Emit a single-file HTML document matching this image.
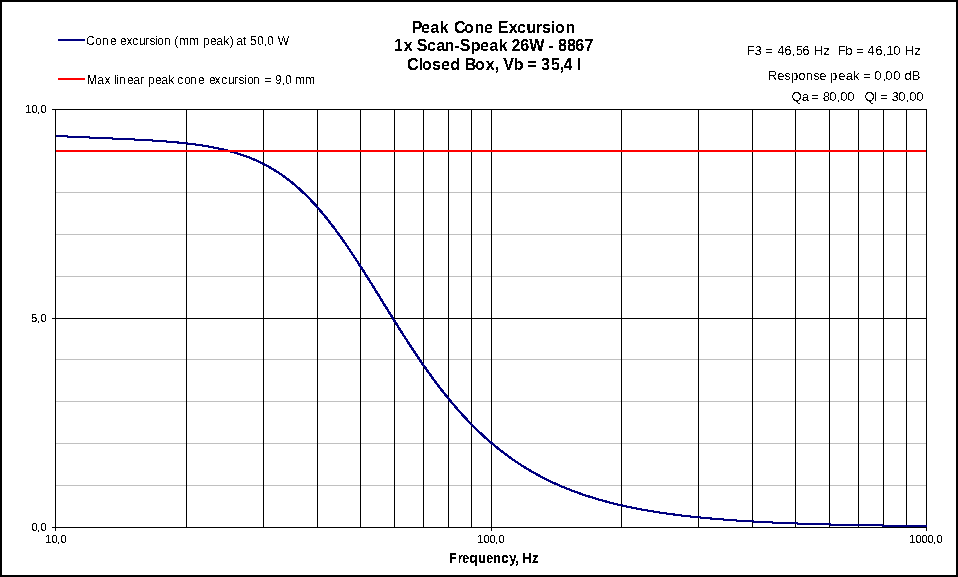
<!DOCTYPE html>
<html><head><meta charset="utf-8"><style>html,body{margin:0;padding:0;background:#fff;width:958px;height:577px;overflow:hidden}</style></head>
<body>
<svg width="958" height="577" viewBox="0 0 958 577" style="display:block">
<rect x="0" y="0" width="958" height="577" fill="#fff"/>
<g shape-rendering="crispEdges" stroke-width="1">
<line x1="56" y1="192.5" x2="926" y2="192.5" stroke="#C0C0C0"/>
<line x1="56" y1="234.5" x2="926" y2="234.5" stroke="#C0C0C0"/>
<line x1="56" y1="276.5" x2="926" y2="276.5" stroke="#C0C0C0"/>
<line x1="56" y1="359.5" x2="926" y2="359.5" stroke="#C0C0C0"/>
<line x1="56" y1="401.5" x2="926" y2="401.5" stroke="#C0C0C0"/>
<line x1="56" y1="443.5" x2="926" y2="443.5" stroke="#C0C0C0"/>
<line x1="56" y1="485.5" x2="926" y2="485.5" stroke="#C0C0C0"/>
<line x1="52" y1="109.5" x2="927" y2="109.5" stroke="#000"/>
<line x1="52" y1="318.5" x2="927" y2="318.5" stroke="#000"/>
<line x1="52" y1="527.5" x2="927" y2="527.5" stroke="#000"/>
<line x1="186.5" y1="109" x2="186.5" y2="528" stroke="#000"/>
<line x1="263.5" y1="109" x2="263.5" y2="528" stroke="#000"/>
<line x1="317.5" y1="109" x2="317.5" y2="528" stroke="#000"/>
<line x1="360.5" y1="109" x2="360.5" y2="528" stroke="#000"/>
<line x1="394.5" y1="109" x2="394.5" y2="528" stroke="#000"/>
<line x1="423.5" y1="109" x2="423.5" y2="528" stroke="#000"/>
<line x1="448.5" y1="109" x2="448.5" y2="528" stroke="#000"/>
<line x1="471.5" y1="109" x2="471.5" y2="528" stroke="#000"/>
<line x1="621.5" y1="109" x2="621.5" y2="528" stroke="#000"/>
<line x1="698.5" y1="109" x2="698.5" y2="528" stroke="#000"/>
<line x1="752.5" y1="109" x2="752.5" y2="528" stroke="#000"/>
<line x1="795.5" y1="109" x2="795.5" y2="528" stroke="#000"/>
<line x1="829.5" y1="109" x2="829.5" y2="528" stroke="#000"/>
<line x1="858.5" y1="109" x2="858.5" y2="528" stroke="#000"/>
<line x1="883.5" y1="109" x2="883.5" y2="528" stroke="#000"/>
<line x1="906.5" y1="109" x2="906.5" y2="528" stroke="#000"/>
<line x1="55.5" y1="109" x2="55.5" y2="531" stroke="#000"/>
<line x1="491.5" y1="109" x2="491.5" y2="531" stroke="#000"/>
<line x1="926.5" y1="109" x2="926.5" y2="531" stroke="#000"/>
</g>
<g fill="none" stroke="#000080" stroke-width="1" shape-rendering="crispEdges">
<path id="c" d="M56.0,135.44 L57.0,135.49 L58.0,135.55 L59.0,135.60 L60.0,135.65 L61.0,135.70 L62.0,135.75 L63.0,135.81 L64.0,135.86 L65.0,135.91 L66.0,135.96 L67.0,136.01 L68.0,136.06 L69.0,136.10 L70.0,136.15 L71.0,136.20 L72.0,136.25 L73.0,136.30 L74.0,136.34 L75.0,136.39 L76.0,136.44 L77.0,136.48 L78.0,136.53 L79.0,136.58 L80.0,136.62 L81.0,136.67 L82.0,136.71 L83.0,136.76 L84.0,136.80 L85.0,136.85 L86.0,136.89 L87.0,136.93 L88.0,136.98 L89.0,137.02 L90.0,137.07 L91.0,137.11 L92.0,137.15 L93.0,137.20 L94.0,137.24 L95.0,137.28 L96.0,137.33 L97.0,137.37 L98.0,137.41 L99.0,137.45 L100.0,137.50 L101.0,137.54 L102.0,137.58 L103.0,137.63 L104.0,137.67 L105.0,137.71 L106.0,137.75 L107.0,137.80 L108.0,137.84 L109.0,137.88 L110.0,137.93 L111.0,137.97 L112.0,138.01 L113.0,138.06 L114.0,138.10 L115.0,138.14 L116.0,138.19 L117.0,138.23 L118.0,138.28 L119.0,138.32 L120.0,138.36 L121.0,138.41 L122.0,138.46 L123.0,138.50 L124.0,138.55 L125.0,138.59 L126.0,138.64 L127.0,138.69 L128.0,138.73 L129.0,138.78 L130.0,138.83 L131.0,138.88 L132.0,138.93 L133.0,138.98 L134.0,139.03 L135.0,139.08 L136.0,139.13 L137.0,139.18 L138.0,139.23 L139.0,139.28 L140.0,139.34 L141.0,139.39 L142.0,139.44 L143.0,139.50 L144.0,139.55 L145.0,139.61 L146.0,139.67 L147.0,139.73 L148.0,139.78 L149.0,139.84 L150.0,139.90 L151.0,139.97 L152.0,140.03 L153.0,140.09 L154.0,140.15 L155.0,140.22 L156.0,140.29 L157.0,140.35 L158.0,140.42 L159.0,140.49 L160.0,140.56 L161.0,140.63 L162.0,140.70 L163.0,140.78 L164.0,140.85 L165.0,140.93 L166.0,141.01 L167.0,141.09 L168.0,141.17 L169.0,141.25 L170.0,141.33 L171.0,141.42 L172.0,141.50 L173.0,141.59 L174.0,141.68 L175.0,141.77 L176.0,141.86 L177.0,141.96 L178.0,142.05 L179.0,142.15 L180.0,142.25 L181.0,142.35 L182.0,142.46 L183.0,142.56 L184.0,142.67 L185.0,142.78 L186.0,142.89 L187.0,143.01 L188.0,143.12 L189.0,143.24 L190.0,143.36 L191.0,143.49 L192.0,143.61 L193.0,143.74 L194.0,143.87 L195.0,144.01 L196.0,144.14 L197.0,144.28 L198.0,144.43 L199.0,144.57 L200.0,144.72 L201.0,144.87 L202.0,145.02 L203.0,145.18 L204.0,145.34 L205.0,145.50 L206.0,145.67 L207.0,145.84 L208.0,146.02 L209.0,146.19 L210.0,146.37 L211.0,146.56 L212.0,146.75 L213.0,146.94 L214.0,147.13 L215.0,147.33 L216.0,147.54 L217.0,147.75 L218.0,147.96 L219.0,148.18 L220.0,148.40 L221.0,148.62 L222.0,148.85 L223.0,149.09 L224.0,149.33 L225.0,149.57 L226.0,149.82 L227.0,150.08 L228.0,150.34 L229.0,150.60 L230.0,150.87 L231.0,151.15 L232.0,151.43 L233.0,151.71 L234.0,152.01 L235.0,152.30 L236.0,152.61 L237.0,152.92 L238.0,153.24 L239.0,153.56 L240.0,153.89 L241.0,154.22 L242.0,154.56 L243.0,154.91 L244.0,155.27 L245.0,155.63 L246.0,156.00 L247.0,156.37 L248.0,156.76 L249.0,157.15 L250.0,157.55 L251.0,157.95 L252.0,158.36 L253.0,158.78 L254.0,159.21 L255.0,159.65 L256.0,160.10 L257.0,160.55 L258.0,161.01 L259.0,161.48 L260.0,161.96 L261.0,162.45 L262.0,162.94 L263.0,163.45 L264.0,163.96 L265.0,164.49 L266.0,165.02 L267.0,165.56 L268.0,166.11 L269.0,166.68 L270.0,167.25 L271.0,167.83 L272.0,168.42 L273.0,169.02 L274.0,169.63 L275.0,170.26 L276.0,170.89 L277.0,171.53 L278.0,172.19 L279.0,172.85 L280.0,173.53 L281.0,174.21 L282.0,174.91 L283.0,175.62 L284.0,176.34 L285.0,177.07 L286.0,177.81 L287.0,178.57 L288.0,179.33 L289.0,180.11 L290.0,180.90 L291.0,181.70 L292.0,182.52 L293.0,183.34 L294.0,184.18 L295.0,185.03 L296.0,185.90 L297.0,186.77 L298.0,187.66 L299.0,188.56 L300.0,189.47 L301.0,190.40 L302.0,191.33 L303.0,192.28 L304.0,193.25 L305.0,194.22 L306.0,195.21 L307.0,196.21 L308.0,197.22 L309.0,198.25 L310.0,199.29 L311.0,200.34 L312.0,201.41 L313.0,202.48 L314.0,203.57 L315.0,204.68 L316.0,205.79 L317.0,206.92 L318.0,208.06 L319.0,209.21 L320.0,210.38 L321.0,211.56 L322.0,212.75 L323.0,213.95 L324.0,215.17 L325.0,216.39 L326.0,217.63 L327.0,218.88 L328.0,220.15 L329.0,221.42 L330.0,222.71 L331.0,224.00 L332.0,225.31 L333.0,226.63 L334.0,227.97 L335.0,229.31 L336.0,230.66 L337.0,232.03 L338.0,233.40 L339.0,234.78 L340.0,236.18 L341.0,237.59 L342.0,239.00 L343.0,240.42 L344.0,241.86 L345.0,243.30 L346.0,244.75 L347.0,246.22 L348.0,247.69 L349.0,249.16 L350.0,250.65 L351.0,252.14 L352.0,253.65 L353.0,255.16 L354.0,256.67 L355.0,258.20 L356.0,259.73 L357.0,261.27 L358.0,262.81 L359.0,264.36 L360.0,265.92 L361.0,267.48 L362.0,269.04 L363.0,270.62 L364.0,272.19 L365.0,273.77 L366.0,275.36 L367.0,276.95 L368.0,278.54 L369.0,280.14 L370.0,281.74 L371.0,283.34 L372.0,284.95 L373.0,286.56 L374.0,288.17 L375.0,289.78 L376.0,291.39 L377.0,293.01 L378.0,294.63 L379.0,296.24 L380.0,297.86 L381.0,299.48 L382.0,301.10 L383.0,302.72 L384.0,304.33 L385.0,305.95 L386.0,307.57 L387.0,309.18 L388.0,310.80 L389.0,312.41 L390.0,314.02 L391.0,315.63 L392.0,317.23 L393.0,318.84 L394.0,320.44 L395.0,322.03 L396.0,323.63 L397.0,325.22 L398.0,326.81 L399.0,328.39 L400.0,329.97 L401.0,331.55 L402.0,333.12 L403.0,334.68 L404.0,336.24 L405.0,337.80 L406.0,339.35 L407.0,340.90 L408.0,342.44 L409.0,343.97 L410.0,345.50 L411.0,347.02 L412.0,348.54 L413.0,350.05 L414.0,351.55 L415.0,353.05 L416.0,354.54 L417.0,356.03 L418.0,357.50 L419.0,358.97 L420.0,360.43 L421.0,361.89 L422.0,363.34 L423.0,364.78 L424.0,366.21 L425.0,367.64 L426.0,369.05 L427.0,370.46 L428.0,371.86 L429.0,373.26 L430.0,374.64 L431.0,376.02 L432.0,377.39 L433.0,378.75 L434.0,380.10 L435.0,381.44 L436.0,382.77 L437.0,384.10 L438.0,385.42 L439.0,386.73 L440.0,388.03 L441.0,389.32 L442.0,390.60 L443.0,391.87 L444.0,393.14 L445.0,394.39 L446.0,395.64 L447.0,396.88 L448.0,398.11 L449.0,399.33 L450.0,400.54 L451.0,401.74 L452.0,402.93 L453.0,404.11 L454.0,405.29 L455.0,406.45 L456.0,407.61 L457.0,408.76 L458.0,409.90 L459.0,411.03 L460.0,412.15 L461.0,413.26 L462.0,414.36 L463.0,415.46 L464.0,416.54 L465.0,417.62 L466.0,418.69 L467.0,419.74 L468.0,420.79 L469.0,421.83 L470.0,422.87 L471.0,423.89 L472.0,424.90 L473.0,425.91 L474.0,426.91 L475.0,427.89 L476.0,428.87 L477.0,429.85 L478.0,430.81 L479.0,431.76 L480.0,432.71 L481.0,433.65 L482.0,434.58 L483.0,435.50 L484.0,436.41 L485.0,437.31 L486.0,438.21 L487.0,439.10 L488.0,439.98 L489.0,440.85 L490.0,441.71 L491.0,442.57 L492.0,443.42 L493.0,444.26 L494.0,445.09 L495.0,445.92 L496.0,446.73 L497.0,447.54 L498.0,448.34 L499.0,449.14 L500.0,449.93 L501.0,450.71 L502.0,451.48 L503.0,452.24 L504.0,453.00 L505.0,453.75 L506.0,454.49 L507.0,455.23 L508.0,455.96 L509.0,456.68 L510.0,457.39 L511.0,458.10 L512.0,458.80 L513.0,459.50 L514.0,460.18 L515.0,460.87 L516.0,461.54 L517.0,462.21 L518.0,462.87 L519.0,463.52 L520.0,464.17 L521.0,464.81 L522.0,465.45 L523.0,466.08 L524.0,466.70 L525.0,467.32 L526.0,467.93 L527.0,468.53 L528.0,469.13 L529.0,469.72 L530.0,470.31 L531.0,470.89 L532.0,471.47 L533.0,472.04 L534.0,472.60 L535.0,473.16 L536.0,473.71 L537.0,474.26 L538.0,474.80 L539.0,475.33 L540.0,475.86 L541.0,476.39 L542.0,476.91 L543.0,477.42 L544.0,477.93 L545.0,478.44 L546.0,478.94 L547.0,479.43 L548.0,479.92 L549.0,480.40 L550.0,480.88 L551.0,481.36 L552.0,481.83 L553.0,482.29 L554.0,482.75 L555.0,483.20 L556.0,483.66 L557.0,484.10 L558.0,484.54 L559.0,484.98 L560.0,485.41 L561.0,485.84 L562.0,486.26 L563.0,486.68 L564.0,487.10 L565.0,487.51 L566.0,487.91 L567.0,488.32 L568.0,488.71 L569.0,489.11 L570.0,489.50 L571.0,489.88 L572.0,490.27 L573.0,490.64 L574.0,491.02 L575.0,491.39 L576.0,491.75 L577.0,492.12 L578.0,492.47 L579.0,492.83 L580.0,493.18 L581.0,493.53 L582.0,493.87 L583.0,494.21 L584.0,494.55 L585.0,494.88 L586.0,495.21 L587.0,495.54 L588.0,495.86 L589.0,496.18 L590.0,496.50 L591.0,496.81 L592.0,497.12 L593.0,497.43 L594.0,497.73 L595.0,498.03 L596.0,498.33 L597.0,498.63 L598.0,498.92 L599.0,499.21 L600.0,499.49 L601.0,499.77 L602.0,500.05 L603.0,500.33 L604.0,500.60 L605.0,500.87 L606.0,501.14 L607.0,501.40 L608.0,501.67 L609.0,501.93 L610.0,502.18 L611.0,502.44 L612.0,502.69 L613.0,502.94 L614.0,503.18 L615.0,503.43 L616.0,503.67 L617.0,503.91 L618.0,504.14 L619.0,504.38 L620.0,504.61 L621.0,504.84 L622.0,505.06 L623.0,505.29 L624.0,505.51 L625.0,505.73 L626.0,505.94 L627.0,506.16 L628.0,506.37 L629.0,506.58 L630.0,506.79 L631.0,506.99 L632.0,507.20 L633.0,507.40 L634.0,507.60 L635.0,507.80 L636.0,507.99 L637.0,508.18 L638.0,508.38 L639.0,508.57 L640.0,508.75 L641.0,508.94 L642.0,509.12 L643.0,509.30 L644.0,509.48 L645.0,509.66 L646.0,509.83 L647.0,510.01 L648.0,510.18 L649.0,510.35 L650.0,510.52 L651.0,510.69 L652.0,510.85 L653.0,511.01 L654.0,511.18 L655.0,511.34 L656.0,511.49 L657.0,511.65 L658.0,511.80 L659.0,511.96 L660.0,512.11 L661.0,512.26 L662.0,512.41 L663.0,512.55 L664.0,512.70 L665.0,512.84 L666.0,512.99 L667.0,513.13 L668.0,513.27 L669.0,513.40 L670.0,513.54 L671.0,513.67 L672.0,513.81 L673.0,513.94 L674.0,514.07 L675.0,514.20 L676.0,514.33 L677.0,514.46 L678.0,514.58 L679.0,514.70 L680.0,514.83 L681.0,514.95 L682.0,515.07 L683.0,515.19 L684.0,515.31 L685.0,515.42 L686.0,515.54 L687.0,515.65 L688.0,515.76 L689.0,515.87 L690.0,515.99 L691.0,516.09 L692.0,516.20 L693.0,516.31 L694.0,516.42 L695.0,516.52 L696.0,516.62 L697.0,516.73 L698.0,516.83 L699.0,516.93 L700.0,517.03 L701.0,517.13 L702.0,517.22 L703.0,517.32 L704.0,517.41 L705.0,517.51 L706.0,517.60 L707.0,517.69 L708.0,517.78 L709.0,517.87 L710.0,517.96 L711.0,518.05 L712.0,518.14 L713.0,518.23 L714.0,518.31 L715.0,518.40 L716.0,518.48 L717.0,518.56 L718.0,518.65 L719.0,518.73 L720.0,518.81 L721.0,518.89 L722.0,518.97 L723.0,519.04 L724.0,519.12 L725.0,519.20 L726.0,519.27 L727.0,519.35 L728.0,519.42 L729.0,519.49 L730.0,519.57 L731.0,519.64 L732.0,519.71 L733.0,519.78 L734.0,519.85 L735.0,519.92 L736.0,519.98 L737.0,520.05 L738.0,520.12 L739.0,520.18 L740.0,520.25 L741.0,520.31 L742.0,520.38 L743.0,520.44 L744.0,520.50 L745.0,520.56 L746.0,520.62 L747.0,520.68 L748.0,520.74 L749.0,520.80 L750.0,520.86 L751.0,520.92 L752.0,520.98 L753.0,521.03 L754.0,521.09 L755.0,521.15 L756.0,521.20 L757.0,521.25 L758.0,521.31 L759.0,521.36 L760.0,521.41 L761.0,521.47 L762.0,521.52 L763.0,521.57 L764.0,521.62 L765.0,521.67 L766.0,521.72 L767.0,521.77 L768.0,521.82 L769.0,521.86 L770.0,521.91 L771.0,521.96 L772.0,522.00 L773.0,522.05 L774.0,522.10 L775.0,522.14 L776.0,522.18 L777.0,522.23 L778.0,522.27 L779.0,522.32 L780.0,522.36 L781.0,522.40 L782.0,522.44 L783.0,522.48 L784.0,522.52 L785.0,522.56 L786.0,522.60 L787.0,522.64 L788.0,522.68 L789.0,522.72 L790.0,522.76 L791.0,522.80 L792.0,522.84 L793.0,522.87 L794.0,522.91 L795.0,522.95 L796.0,522.98 L797.0,523.02 L798.0,523.05 L799.0,523.09 L800.0,523.12 L801.0,523.16 L802.0,523.19 L803.0,523.22 L804.0,523.26 L805.0,523.29 L806.0,523.32 L807.0,523.35 L808.0,523.38 L809.0,523.42 L810.0,523.45 L811.0,523.48 L812.0,523.51 L813.0,523.54 L814.0,523.57 L815.0,523.60 L816.0,523.63 L817.0,523.66 L818.0,523.68 L819.0,523.71 L820.0,523.74 L821.0,523.77 L822.0,523.79 L823.0,523.82 L824.0,523.85 L825.0,523.87 L826.0,523.90 L827.0,523.93 L828.0,523.95 L829.0,523.98 L830.0,524.00 L831.0,524.03 L832.0,524.05 L833.0,524.08 L834.0,524.10 L835.0,524.12 L836.0,524.15 L837.0,524.17 L838.0,524.19 L839.0,524.22 L840.0,524.24 L841.0,524.26 L842.0,524.28 L843.0,524.31 L844.0,524.33 L845.0,524.35 L846.0,524.37 L847.0,524.39 L848.0,524.41 L849.0,524.43 L850.0,524.45 L851.0,524.47 L852.0,524.49 L853.0,524.51 L854.0,524.53 L855.0,524.55 L856.0,524.57 L857.0,524.59 L858.0,524.61 L859.0,524.63 L860.0,524.64 L861.0,524.66 L862.0,524.68 L863.0,524.70 L864.0,524.72 L865.0,524.73 L866.0,524.75 L867.0,524.77 L868.0,524.78 L869.0,524.80 L870.0,524.82 L871.0,524.83 L872.0,524.85 L873.0,524.87 L874.0,524.88 L875.0,524.90 L876.0,524.91 L877.0,524.93 L878.0,524.94 L879.0,524.96 L880.0,524.97 L881.0,524.99 L882.0,525.00 L883.0,525.02 L884.0,525.03 L885.0,525.04 L886.0,525.06 L887.0,525.07 L888.0,525.09 L889.0,525.10 L890.0,525.11 L891.0,525.13 L892.0,525.14 L893.0,525.15 L894.0,525.16 L895.0,525.18 L896.0,525.19 L897.0,525.20 L898.0,525.21 L899.0,525.23 L900.0,525.24 L901.0,525.25 L902.0,525.26 L903.0,525.27 L904.0,525.28 L905.0,525.30 L906.0,525.31 L907.0,525.32 L908.0,525.33 L909.0,525.34 L910.0,525.35 L911.0,525.36 L912.0,525.37 L913.0,525.38 L914.0,525.39 L915.0,525.40 L916.0,525.41 L917.0,525.42 L918.0,525.43 L919.0,525.44 L920.0,525.45 L921.0,525.46 L922.0,525.47 L923.0,525.48 L924.0,525.49 L925.0,525.50 L926.0,525.51"/>
<use href="#c" x="1"/><use href="#c" y="1"/><use href="#c" x="1" y="1"/>
</g>
<line x1="56" y1="151" x2="926" y2="151" stroke="#FF0000" stroke-width="2" shape-rendering="crispEdges"/>
<line x1="58" y1="40" x2="85" y2="40" stroke="#000080" stroke-width="2" shape-rendering="crispEdges"/>
<line x1="58" y1="79" x2="85" y2="79" stroke="#FF0000" stroke-width="2" shape-rendering="crispEdges"/>
<filter id="th" x="0" y="0" width="958" height="577" filterUnits="userSpaceOnUse"><feComponentTransfer><feFuncA type="linear" slope="1000" intercept="-450"/></feComponentTransfer></filter>
<filter id="th2" x="0" y="0" width="958" height="577" filterUnits="userSpaceOnUse"><feComponentTransfer><feFuncA type="linear" slope="1000" intercept="-380"/></feComponentTransfer></filter>
<filter id="th3" x="0" y="0" width="958" height="577" filterUnits="userSpaceOnUse"><feComponentTransfer><feFuncA type="linear" slope="1000" intercept="-500"/></feComponentTransfer></filter>
<g font-family="Liberation Sans, sans-serif" fill="#000" filter="url(#th)">
<text x="411.625 421 430.125 439.625 448 453.875 464 474.375 484 493 497.625 508.625 517 526.375 535.625 542 550.625 555 565.375" y="33" font-size="16" font-weight="bold">Peak Cone Excursion</text>
<text x="394 403.625 412 416.625 427 436.125 444.375 454.125 459.625 470.625 480 489.125 498.625 506 511.375 520.125 529.125 544 548.125 553 558 567 575.125 584.375" y="51" font-size="16" font-weight="bold">1x Scan-Speak 26W - 8867</text>
<text x="406.875 418.625 422 432 441 450.125 459 464.625 475 485.625 494.625 498 503.125 513.625 523 527.125 537 541 550.875 559.625 563.375 572 576.625" y="70" font-size="16" font-weight="bold">Closed Box, Vb = 35,4 l</text>
</g>
<g font-family="Liberation Sans, sans-serif" fill="#000" filter="url(#th3)">
<text x="86 95 102 109.875 115 119.875 126.375 132.125 138.875 145 149.375 155 157 164 171 174.125 179 189 199 202.875 209.875 216.125 223.125 229.625 233 236.125 243 246 250 257 263.625 267 274 277.625" y="45" font-size="12">Cone excursion (mm peak) at 50,0 W</text>
<text x="87 97.125 104.375 110 114 116 119 126.875 133.125 140 144 147.875 154.875 161.125 168.125 174 177.125 184 190 197.875 204 208.875 214.375 221.125 227.875 234 238.375 244 247 253 260 264.375 271 274.875 281.625 285 292 295 305" y="84" font-size="12">Max linear peak cone excursion = 9,0 mm</text>
<text x="746.625 754.375 761 765.125 773 777.125 784.125 791.375 795.625 802.125 810 813.625 823.125 829 833 837.625 845.125 852 856.125 864 867.125 875.125 882.375 886.375 893.125 900 904.625 914.125" y="55" font-size="13">F3 = 46,56 Hz&#160; Fb = 46,10 Hz</text>
<text x="767.625 777.125 784.125 791 798.125 805.625 813.125 819.125 827 830 838.125 845.625 853 859 863.125 871 874.125 882.375 885.125 893.125 900 904.375 911.625" y="80" font-size="13">Response peak = 0,00 dB</text>
<text x="791.375 801.625 808 811.125 819 822.625 829.125 836.375 840.125 847.125 854 857 861 864.375 874 877 880.125 888 891.375 898.125 905.375 909.125 916.125" y="101" font-size="13">Qa = 80,00 &#160; Ql = 30,00</text>
</g>
<g font-family="Liberation Sans, sans-serif" fill="#000" filter="url(#th2)">
<text x="25.125 31.375 37 40.375" y="113" font-size="11">10,0</text>
<text x="31.125 37 40.375" y="322" font-size="11">5,0</text>
<text x="31.375 37 40.375" y="531" font-size="11">0,0</text>
<text x="45.125 51.375 57 60.375" y="543" font-size="11">10,0</text>
<text x="477.125 483.375 489.375 495 498.375" y="543" font-size="11">100,0</text>
<text x="909.125 915.375 921.375 927.375 933 936.375" y="543" font-size="11">1000,0</text>
</g>
<g font-family="Liberation Sans, sans-serif" fill="#000" filter="url(#th)">
<text x="449.125 457.875 462.125 469.625 478 486.125 493 501.375 509.375 515.125 519 522.125 532.125" y="563" font-size="13" font-weight="bold" transform="translate(0 563) scale(1 1.1) translate(0 -563)">Frequency, Hz</text>
</g>
<rect x="1" y="1" width="956" height="575" fill="none" stroke="#000" stroke-width="2" shape-rendering="crispEdges"/>
</svg>
</body></html>
